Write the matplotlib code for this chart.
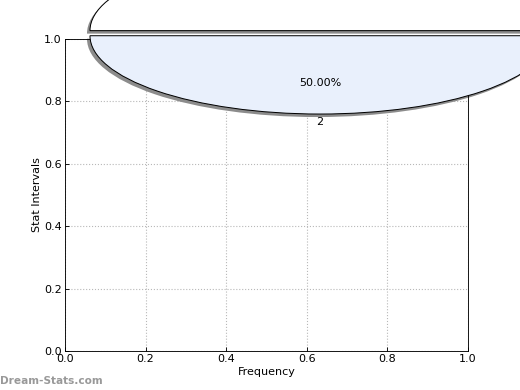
import matplotlib
matplotlib.use("Agg")
import matplotlib.pyplot as plt
import matplotlib.transforms as mtransforms
from matplotlib.patches import PathPatch

# data
slice_labels = ["1", "2"]
slice_values = [50, 50]
slice_colors = ["#ffffff", "#e9f0fc"]
slice_explode = [0.065, 0.0]
x_ticks = [0.0, 0.2, 0.4, 0.6, 0.8, 1.0]
y_ticks = [0.0, 0.2, 0.4, 0.6, 0.8, 1.0]

fig = plt.figure(figsize=(6.5, 4.875), dpi=80)
ax = fig.add_axes([0.125, 0.1, 0.775, 0.8])

wedges, texts, autotexts = ax.pie(
    slice_values, labels=slice_labels, colors=slice_colors,
    explode=slice_explode, autopct="%.2f%%", startangle=0,
    frame=True, textprops=dict(fontsize=10),
    wedgeprops=dict(edgecolor="black", linewidth=0.9),
)

# ellipse placement in data coordinates (pie is stretched)
cx, cy, rx, ry = 0.633, 1.0105, 0.571, 0.251
T = mtransforms.Affine2D().scale(rx, ry).translate(cx, cy) + ax.transData
shadow_off = mtransforms.ScaledTranslation(-3 / 80, -3 / 80, fig.dpi_scale_trans)

for w in wedges:
    w.set_transform(T)
    w.set_clip_on(False)
    w.set_zorder(3)
    sh = PathPatch(w.get_path(), transform=T + shadow_off, facecolor="#8c8c8c",
                   edgecolor="none", zorder=2.5, clip_on=False)
    ax.add_patch(sh)
for t in list(texts) + list(autotexts):
    t.set_transform(T)
    t.set_clip_on(False)
    t.set_zorder(4)
    t.set_horizontalalignment("center")

ax.set_aspect("auto")
ax.set_xlim(0, 1)
ax.set_ylim(0, 1)
ax.set_xticks(x_ticks)
ax.set_yticks(y_ticks)
ax.set_xticklabels([f"{v:.1f}" for v in x_ticks], fontsize=10)
ax.set_yticklabels([f"{v:.1f}" for v in y_ticks], fontsize=10)
ax.tick_params(direction="in", length=4, pad=3)
ax.grid(True, linestyle=":", color="#b8b8b8", linewidth=1)
ax.set_axisbelow(True)
ax.set_xlabel("Frequency", fontsize=10, labelpad=2)
ax.set_ylabel("Stat Intervals", fontsize=10, labelpad=2)

fig.text(0.0, 0.01, "Dream-Stats.com", fontsize=9.5, fontweight="bold",
         color="#999999", ha="left", va="bottom")

fig.savefig("out.png", dpi=80)
